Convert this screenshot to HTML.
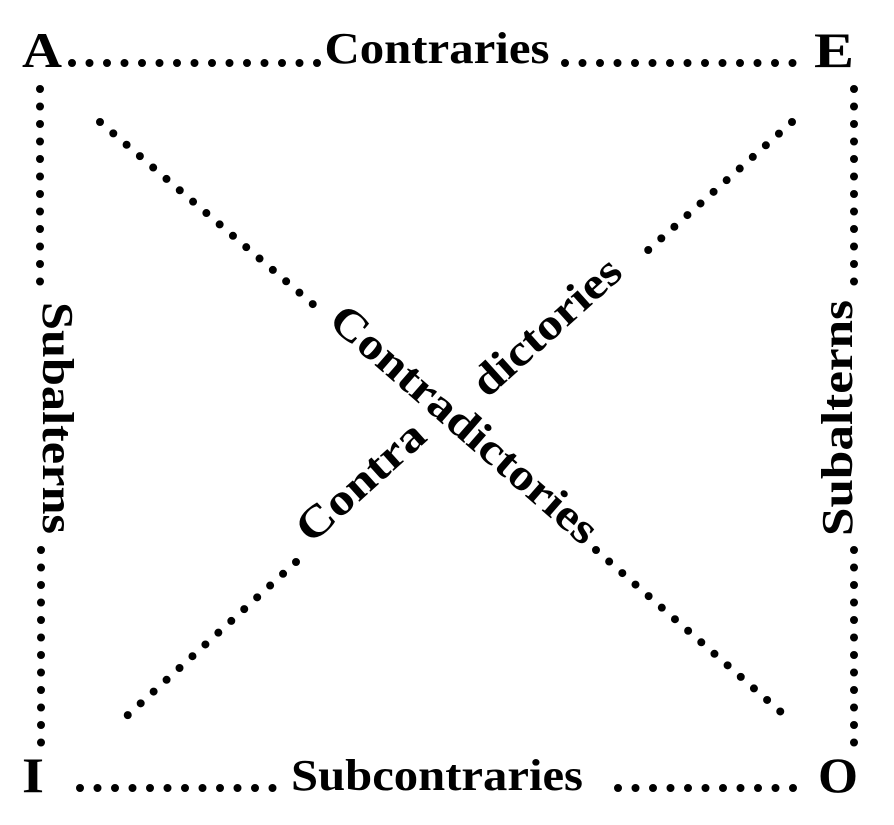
<!DOCTYPE html>
<html><head><meta charset="utf-8"><style>
html,body{margin:0;padding:0;background:#fff;}
svg{display:block}
text{font-family:"Liberation Serif",serif;fill:#000;}
</style></head><body>
<svg width="894" height="825" viewBox="0 0 894 825" xmlns="http://www.w3.org/2000/svg">
<g stroke="#000" stroke-width="8" stroke-linecap="round" stroke-dasharray="0 17.5" fill="none">
<line x1="72" y1="63" x2="318" y2="63"/>
<line x1="565" y1="63" x2="808" y2="63"/>
<line x1="40" y1="89" x2="40" y2="290"/>
<line x1="41" y1="550" x2="41" y2="758"/>
<line x1="854" y1="89" x2="854" y2="290"/>
<line x1="854" y1="550" x2="854" y2="745"/>
<line x1="80" y1="788" x2="280" y2="788"/>
<line x1="618" y1="788" x2="810" y2="788"/>
<line x1="100" y1="122" x2="322" y2="312"/>
<line x1="596" y1="550" x2="782" y2="713"/>
<line x1="792" y1="122" x2="646" y2="252"/>
<line x1="296" y1="562" x2="118" y2="724"/>
</g>
<g font-weight="bold" font-size="50">
<text x="22" y="67" textLength="40" lengthAdjust="spacingAndGlyphs">A</text>
<text x="814" y="67" textLength="40" lengthAdjust="spacingAndGlyphs">E</text>
<text x="22" y="792" textLength="22" lengthAdjust="spacingAndGlyphs">I</text>
<text x="818" y="792" textLength="40" lengthAdjust="spacingAndGlyphs">O</text>
</g>
<g font-size="44" font-weight="bold">
<text x="437" y="63" text-anchor="middle" textLength="225" lengthAdjust="spacingAndGlyphs">Contraries</text>
<text x="437" y="790" text-anchor="middle" textLength="292" lengthAdjust="spacingAndGlyphs">Subcontraries</text>
<text transform="translate(43,418) rotate(90)" text-anchor="middle" textLength="232" lengthAdjust="spacingAndGlyphs">Subalterns</text>
<text transform="translate(852,418) rotate(-90)" text-anchor="middle" textLength="236" lengthAdjust="spacingAndGlyphs">Subalterns</text>
<text transform="translate(455,435) rotate(41)" text-anchor="middle" textLength="340" lengthAdjust="spacingAndGlyphs">Contradictories</text>
<text transform="translate(556,337) rotate(-42)" text-anchor="middle" textLength="185" lengthAdjust="spacingAndGlyphs">dictories</text>
<text transform="translate(370,492) rotate(-42)" text-anchor="middle" textLength="158" lengthAdjust="spacingAndGlyphs">Contra</text>
</g>
</svg>
</body></html>
